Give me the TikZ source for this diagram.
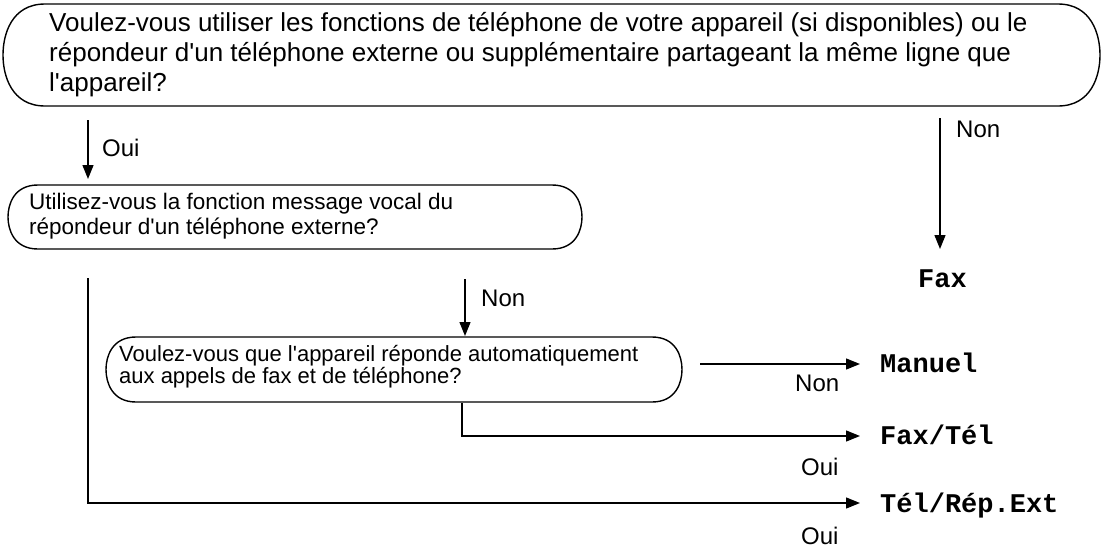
\documentclass[tikz,border=0pt]{standalone}
\usepackage{fontspec}
\setmainfont{Liberation Sans}
\newfontfamily\monob{Liberation Mono}
\usetikzlibrary{arrows.meta}
\tikzset{
  flow/.style={line width=1.3pt,-{Triangle[length=14pt,width=11pt]}},
  outline/.style={line width=1.4pt},
  lbl/.style={inner sep=0pt,anchor=base west,font=\fontsize{24}{26}\selectfont},
  res/.style={inner sep=0pt,anchor=base west,font=\monob\bfseries\fontsize{27}{28}\selectfont},
  txt/.style={inner sep=0pt,anchor=north west,align=left}
}
\newcommand{\capsule}[5]{% xl xr top bot r
  \draw[outline] (#1+#5,#3) -- (#2-#5,#3)
    .. controls (#2-0.2*#5,#3) and (#2,#3+0.3*#4-0.3*#3) .. (#2,0.5*#3+0.5*#4)
    .. controls (#2,#4-0.3*#4+0.3*#3) and (#2-0.2*#5,#4) .. (#2-#5,#4)
    -- (#1+#5,#4)
    .. controls (#1+0.2*#5,#4) and (#1,#4-0.3*#4+0.3*#3) .. (#1,0.5*#3+0.5*#4)
    .. controls (#1,#3+0.3*#4-0.3*#3) and (#1+0.2*#5,#3) .. (#1+#5,#3);}
\begin{document}
\begin{tikzpicture}[x=1pt,y=-1pt]
\useasboundingbox (0,0) rectangle (1109,554);
% boxes
\capsule{3}{1100}{4}{106}{42}
\capsule{8}{582}{185}{249}{30}
\capsule{106}{682}{337}{402}{30}
\node[txt,font=\fontsize{26}{30}\selectfont] (q1) at (49,12) {Voulez-vous utiliser les fonctions de téléphone de votre appareil (si disponibles) ou le\\répondeur d\textquotesingle un téléphone externe ou supplémentaire partageant la même ligne que\\l\textquotesingle appareil?};
\node[txt,font=\fontsize{22.5}{25}\selectfont] (q2) at (29,193) {Utilisez-vous la fonction message vocal du\\répondeur d\textquotesingle un téléphone externe?};
\node[txt,font=\fontsize{22}{22}\selectfont] (q3) at (119,345) {Voulez-vous que l\textquotesingle appareil réponde automatiquement\\aux appels de fax et de téléphone?};
% results
\node[res] (fax) at (918,287) {Fax};
\node[res] (man) at (880,372) {Manuel};
\node[res] (ft) at (880,444) {Fax/Tél};
\node[res] (tre) at (880,512) {Tél/Rép.Ext};
% coordinates
\coordinate (a1) at (88,120); \coordinate (a2) at (88,179);
\coordinate (b1) at (940,118); \coordinate (b2) at (940,249);
\coordinate (c1) at (465,279); \coordinate (c2) at (465,336);
\coordinate (d1) at (700,364); \coordinate (d2) at (860,364);
\coordinate (e1) at (462,403); \coordinate (e2) at (462,436); \coordinate (e3) at (860,436);
\coordinate (f1) at (88,278); \coordinate (f2) at (88,503); \coordinate (f3) at (860,503);
\draw[flow] (a1) -- (a2);
\draw[flow] (b1) -- (b2);
\draw[flow] (c1) -- (c2);
\draw[flow] (d1) -- (d2);
\draw[flow] (e1) -- (e2) -- (e3);
\draw[flow] (f1) -- (f2) -- (f3);
% labels
\node[lbl] (l1) at (102,156) {Oui};
\node[lbl] (l2) at (956,137) {Non};
\node[lbl] (l3) at (481,306) {Non};
\node[lbl] (l4) at (795,391) {Non};
\node[lbl] (l5) at (801,475) {Oui};
\node[lbl] (l6) at (801,544) {Oui};
\end{tikzpicture}
\end{document}
